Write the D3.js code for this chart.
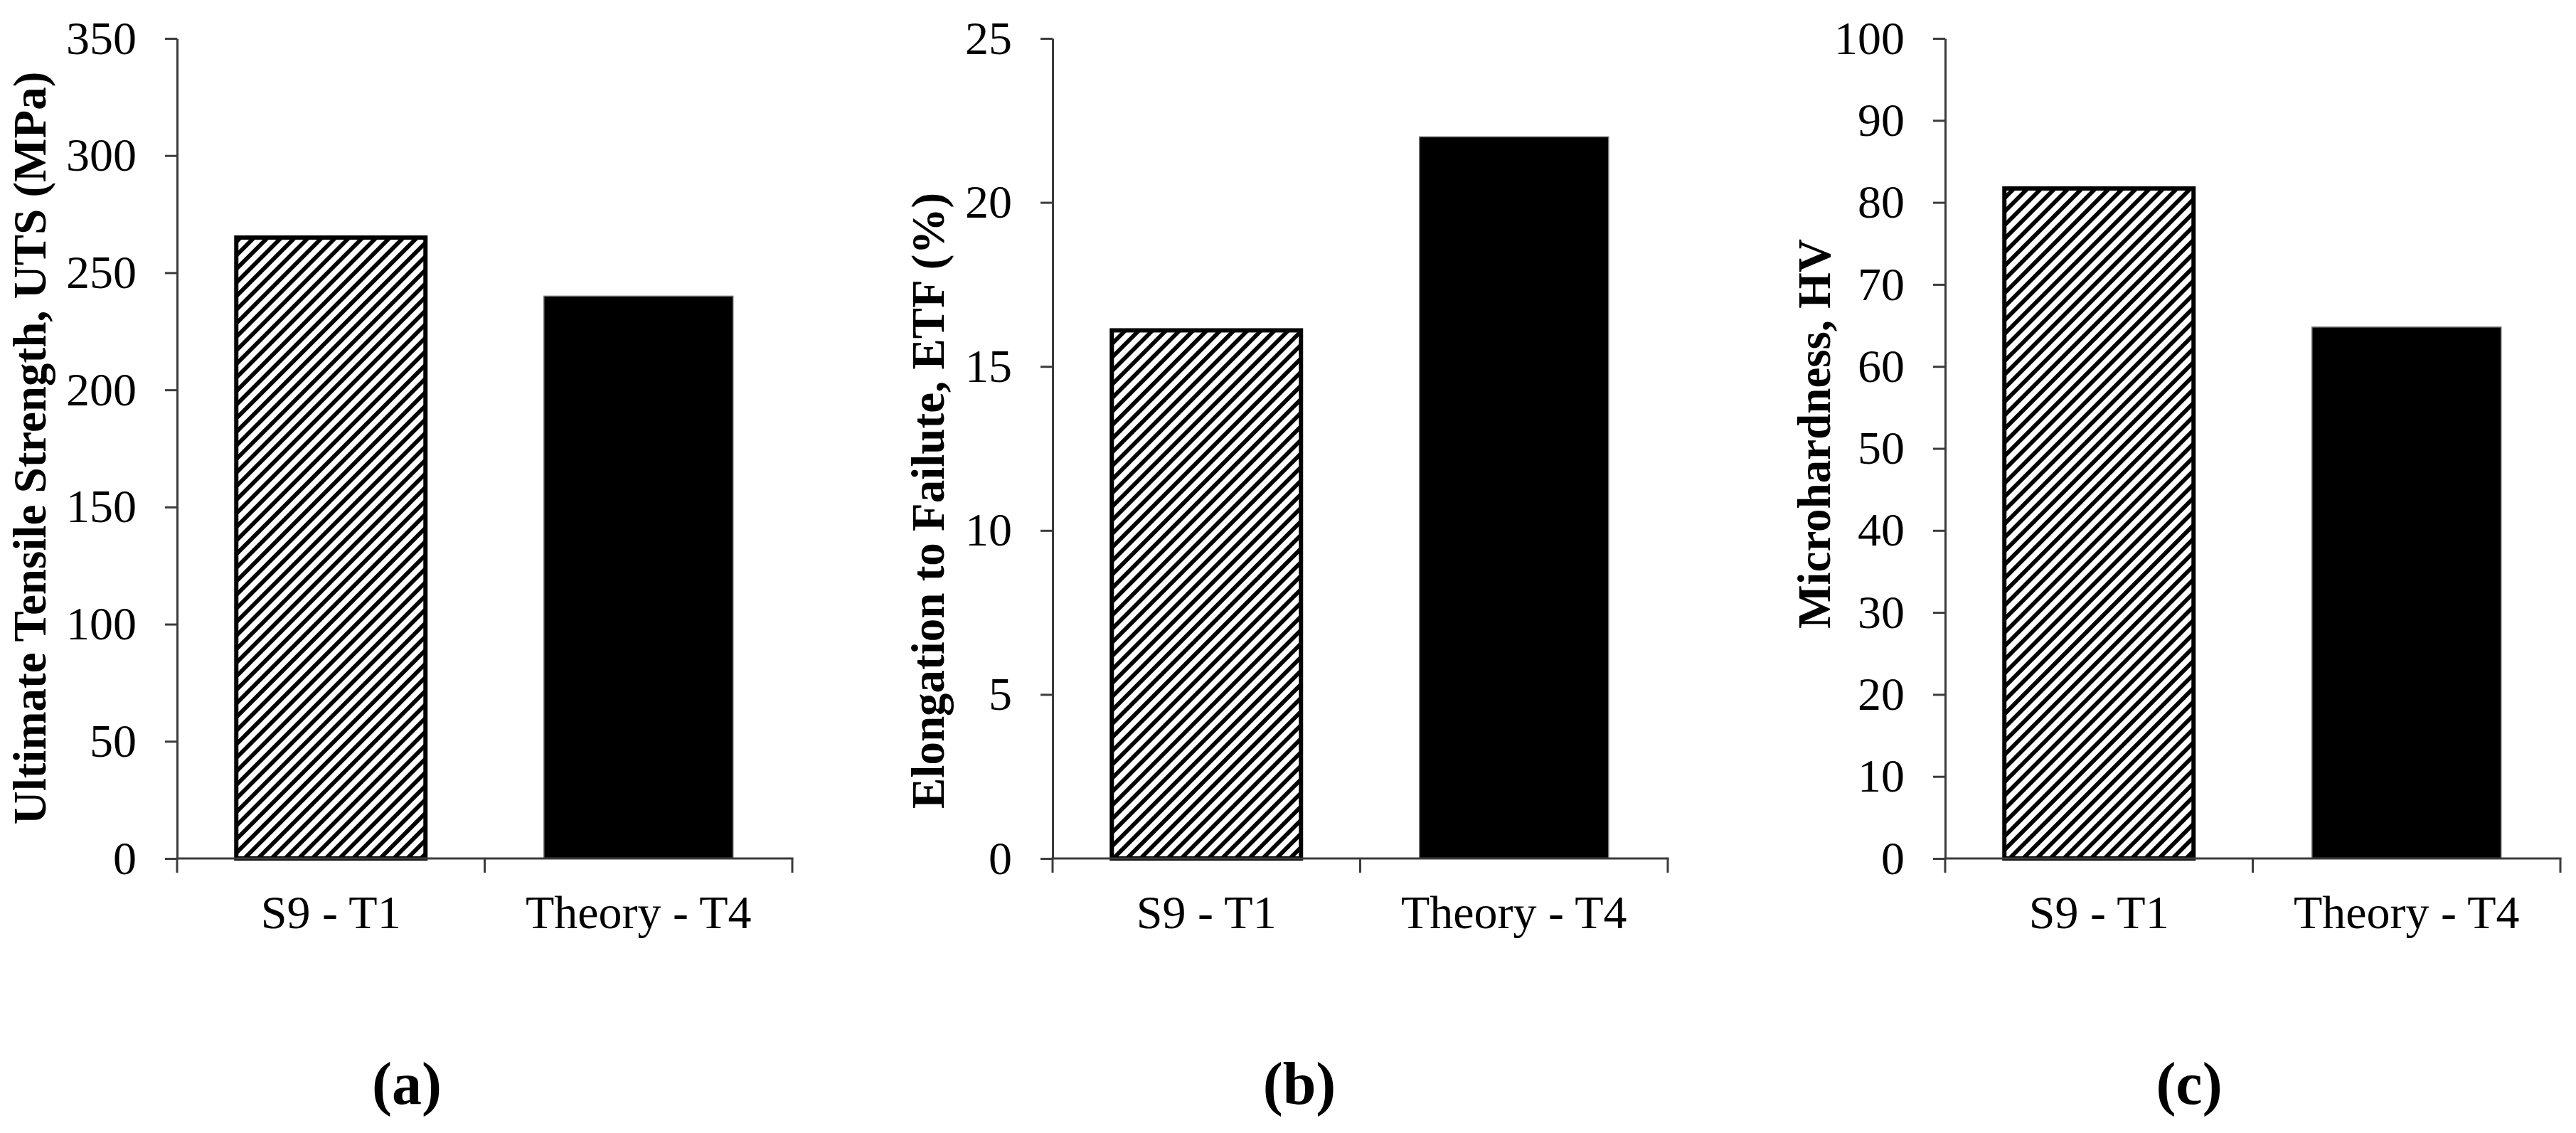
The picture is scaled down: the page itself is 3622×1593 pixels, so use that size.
<!DOCTYPE html>
<html>
<head>
<meta charset="utf-8">
<script src="https://cdn.jsdelivr.net/npm/d3@7"></script>
<style>
  html, body { margin: 0; padding: 0; background: #fff; }
  svg { display: block; }
  text { font-family: "Liberation Serif", "Times New Roman", serif; fill: #000; }
</style>
</head>
<body>
<script>
// ---------- data ----------
const categories = ["S9 - T1", "Theory - T4"];
const utsValues = [265, 240];
const etfValues = [16.1, 22];
const hvValues = [81.7, 64.8];
const utsTicks = [0, 50, 100, 150, 200, 250, 300, 350];
const etfTicks = [0, 5, 10, 15, 20, 25];
const hvTicks = [0, 10, 20, 30, 40, 50, 60, 70, 80, 90, 100];
const yTitles = ["Ultimate Tensile Strength, UTS (MPa)", "Elongation to Failute, ETF (%)", "Microhardness, HV"];
const captions = ["(a)", "(b)", "(c)"];

// ---------- layout ----------
const W = 3622, H = 1593;
const yTop = 54, yZero = 1207;
const axisLen = 865;
const layout = [
  { x0: 249,  titleX: 64,   titleY: 630, capX: 572 },
  { x0: 1480, titleX: 1327, titleY: 704, capX: 1827 },
  { x0: 2735, titleX: 2573, titleY: 610, capX: 3078 }
];
const panels = [
  { values: utsValues, ticks: utsTicks },
  { values: etfValues, ticks: etfTicks },
  { values: hvValues, ticks: hvTicks }
].map((p, i) => Object.assign(p, layout[i], { title: yTitles[i], caption: captions[i] }));

const axisColor = "#3c3c3c";

const svg = d3.select("body").append("svg")
  .attr("width", W).attr("height", H)
  .attr("viewBox", `0 0 ${W} ${H}`);

const defs = svg.append("defs");
const pat = defs.append("pattern")
  .attr("id", "hatch")
  .attr("patternUnits", "userSpaceOnUse")
  .attr("width", 13.5).attr("height", 13.5)
  .attr("patternTransform", "rotate(45)");
pat.append("rect").attr("width", 13.5).attr("height", 13.5).attr("fill", "#fff");
pat.append("rect").attr("x", 0).attr("y", 0).attr("width", 5.8).attr("height", 13.5).attr("fill", "#000");

panels.forEach(p => {
  const g = svg.append("g");
  const y = d3.scaleLinear().domain([0, d3.max(p.ticks)]).range([yZero, yTop]);
  const x = d3.scaleBand().domain(categories)
    .range([p.x0, p.x0 + axisLen])
    .paddingInner(0.385).paddingOuter(0.1925);
  const step = x.step();

  // bars
  g.selectAll("rect.bar").data(p.values).enter().append("rect")
    .attr("class", "bar")
    .attr("x", (d, i) => x(categories[i]))
    .attr("width", x.bandwidth())
    .attr("y", d => y(d))
    .attr("height", d => y(0) - y(d))
    .attr("fill", (d, i) => i === 0 ? "url(#hatch)" : "#000")
    .attr("stroke", (d, i) => i === 0 ? "#000" : "#777")
    .attr("stroke-width", (d, i) => i === 0 ? 6 : 1.5);

  // y axis
  const yAxis = d3.axisLeft(y).tickValues(p.ticks).tickSize(17).tickSizeOuter(0).tickPadding(40)
    .tickFormat(d3.format("d"));
  const ya = g.append("g").attr("transform", `translate(${p.x0},0)`).call(yAxis);
  ya.select(".domain").attr("stroke", axisColor).attr("stroke-width", 3);
  ya.selectAll(".tick line").attr("stroke", axisColor).attr("stroke-width", 3);
  ya.selectAll(".tick text")
    .attr("font-family", "Liberation Serif, Times New Roman, serif")
    .attr("font-size", 66).attr("fill", "#000").attr("dy", "0.32em");

  // x axis
  const xr = x.range();
  g.append("line").attr("x1", xr[0] - 1.5).attr("x2", xr[1] + 1.5)
    .attr("y1", y(0)).attr("y2", y(0))
    .attr("stroke", axisColor).attr("stroke-width", 3);
  g.selectAll("line.xtick").data(d3.range(categories.length + 1)).enter().append("line")
    .attr("class", "xtick")
    .attr("x1", i => xr[0] + i * step).attr("x2", i => xr[0] + i * step)
    .attr("y1", y(0)).attr("y2", y(0) + 20)
    .attr("stroke", axisColor).attr("stroke-width", 3);
  g.selectAll("text.xlab").data(categories).enter().append("text")
    .attr("class", "xlab")
    .attr("x", d => x(d) + x.bandwidth() / 2)
    .attr("y", 1305)
    .attr("text-anchor", "middle")
    .attr("font-size", 66)
    .text(d => d);

  // y title
  g.append("text")
    .attr("transform", `translate(${p.titleX},${p.titleY}) rotate(-90)`)
    .attr("text-anchor", "middle")
    .attr("font-size", 65)
    .attr("font-weight", "bold")
    .text(p.title);

  // caption
  g.append("text")
    .attr("x", p.capX).attr("y", 1552)
    .attr("text-anchor", "middle")
    .attr("font-size", 84)
    .attr("font-weight", "bold")
    .text(p.caption);
});
</script>
</body>
</html>
